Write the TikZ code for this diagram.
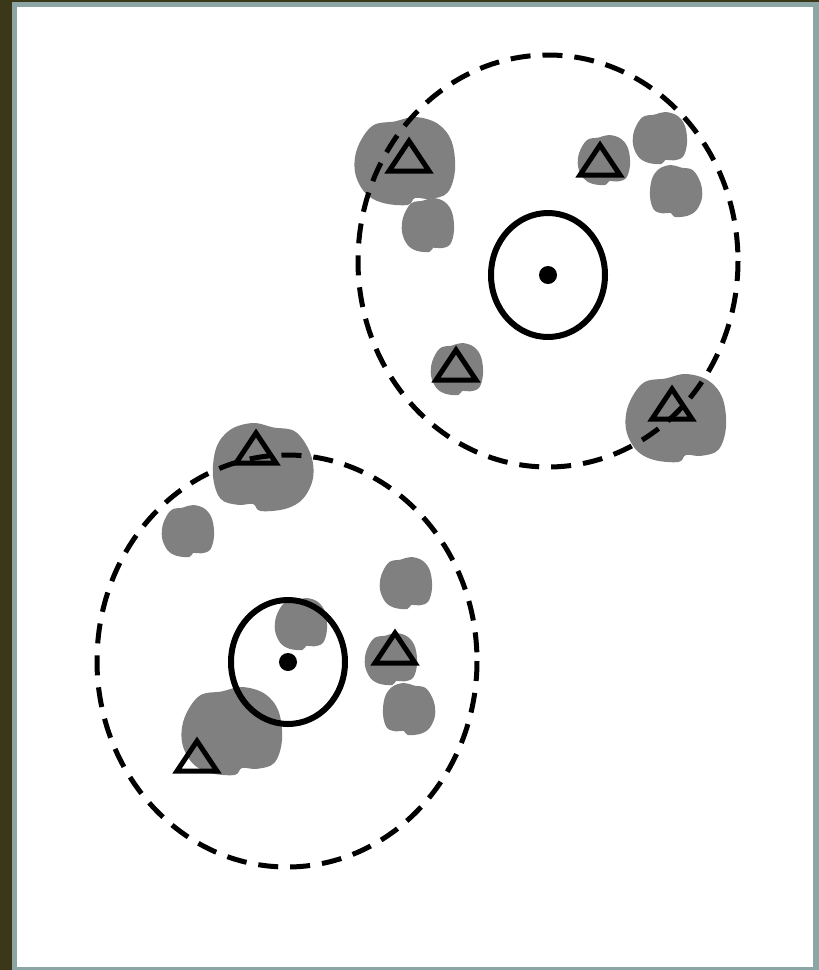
\documentclass[tikz,border=0pt]{standalone}
\definecolor{outerbg}{HTML}{3B3719}
\definecolor{framecol}{HTML}{8CA6A6}
\definecolor{blobgrey}{HTML}{808080}
\tikzset{
  ring/.style={draw=black, line width=5pt, dash pattern=on 20pt off 12pt},
  core/.style={draw=black, line width=6pt},
  pics/blob/.style={code={
    \fill[blobgrey] plot[smooth cycle, tension=0.6] coordinates {(-0.95,-0.3) (-0.65,-0.8) (-0.2,-0.9) (0.2,-1.0) (0.65,-0.85) (0.93,-0.45) (1.0,0.2) (0.85,0.72) (0.5,0.86) (0.2,0.84) (0.05,1.0) (-0.45,0.95) (-0.8,0.72) (-1.0,0.25)};
  }},
  pics/tri/.style={code={
    \draw[line width=5pt, black] (0,-15) -- (-20,15) -- (20,15) -- cycle;
  }}
}
\begin{document}
\begin{tikzpicture}[x=1pt,y=-1pt]
\useasboundingbox (0,0) rectangle (819,970);
\fill[outerbg] (0,0) rectangle (819,970);
\fill[framecol] (12,2) rectangle (819,970);
\fill[white] (17,7) rectangle (813,967);
% blobs
\pic[xscale=50,yscale=44] at (405,161) {blob};
\pic[xscale=26,yscale=27] at (428,225) {blob};
\pic[xscale=26,yscale=25] at (604,160) {blob};
\pic[xscale=27,yscale=26] at (660,138) {blob};
\pic[xscale=-26,yscale=26] at (676,191) {blob};
\pic[xscale=26,yscale=26] at (457,369) {blob};
\pic[xscale=50,yscale=44] at (676,418) {blob};
\pic[xscale=-50,yscale=44] at (263,467) {blob};
\pic[xscale=26,yscale=26] at (188,531) {blob};
\pic[xscale=26,yscale=26] at (406,583) {blob};
\pic[xscale=26,yscale=26] at (391,659) {blob};
\pic[xscale=-26,yscale=26] at (409,709) {blob};
\pic[xscale=26,yscale=26] at (301,624) {blob};
\pic[xscale=50,yscale=44] at (232,731) {blob};
% rings
\coordinate (top) at (548,261);
\coordinate (bot) at (287,661);
\draw[ring] (top) ellipse [x radius=190, y radius=206];
\draw[ring] (bot) ellipse [x radius=190, y radius=206];
% triangles
\pic at (409,156) {tri};
\pic at (600,160) {tri};
\pic at (456,365) {tri};
\pic at (672,404) {tri};
\pic at (256,448) {tri};
\pic at (395,648) {tri};
\pic at (197,756) {tri};
% cores
\coordinate (topc) at (548,275);
\coordinate (botc) at (288,662);
\draw[core] (topc) ellipse [x radius=57, y radius=62];
\draw[core] (botc) ellipse [x radius=57, y radius=62];
\fill[black] (topc) circle [radius=9];
\fill[black] (botc) circle [radius=9];
\end{tikzpicture}
\end{document}
